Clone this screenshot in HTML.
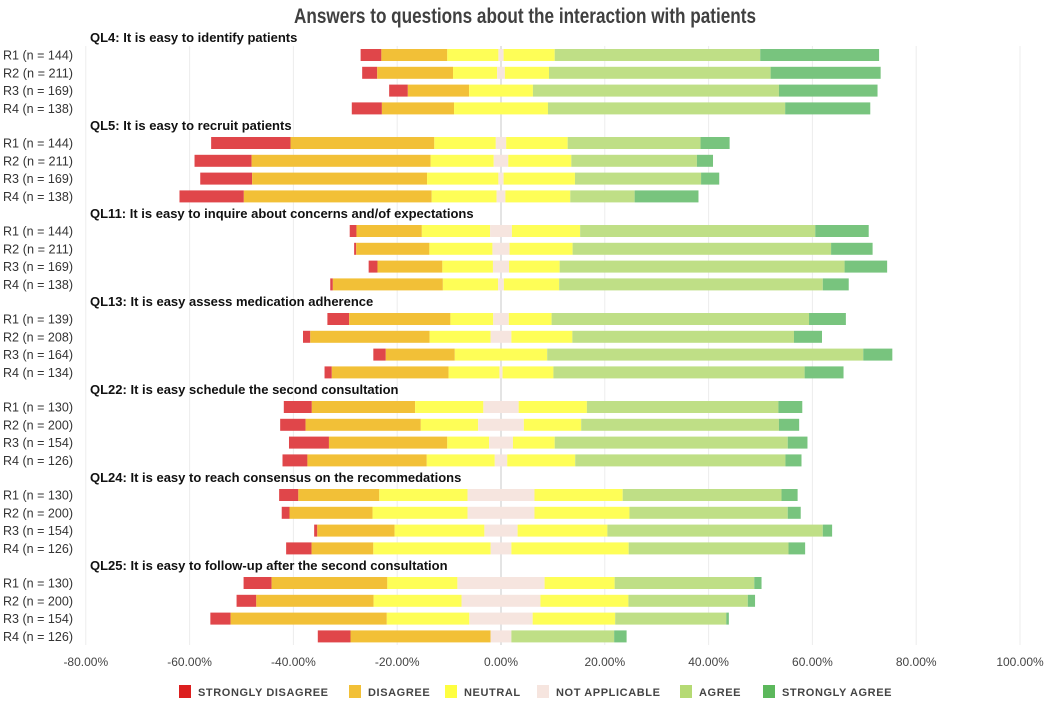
<!DOCTYPE html>
<html><head><meta charset="utf-8"><style>
body{margin:0;background:#fff}
svg{display:block;font-family:"Liberation Sans",sans-serif}
</style></head><body>
<svg id="chart" width="1052" height="704" viewBox="0 0 1052 704">
<text x="525" y="23" text-anchor="middle" font-size="21" font-weight="bold" fill="#404040" textLength="462" lengthAdjust="spacingAndGlyphs">Answers to questions about the interaction with patients</text>
<g id="grid"></g><g id="bars"></g><g id="labels"></g><g id="legend"></g>
</svg>
<script>
const questions=["QL4: It is easy to identify patients","QL5: It is easy to recruit patients","QL11: It is easy to inquire about concerns and/of expectations","QL13: It is easy assess medication adherence","QL22: It is easy schedule the second consultation","QL24: It is easy to reach consensus on the recommedations","QL25: It is easy to follow-up after the second consultation"];
const rowLabels=[
["R1 (n = 144)","R2 (n = 211)","R3 (n = 169)","R4 (n = 138)"],
["R1 (n = 144)","R2 (n = 211)","R3 (n = 169)","R4 (n = 138)"],
["R1 (n = 144)","R2 (n = 211)","R3 (n = 169)","R4 (n = 138)"],
["R1 (n = 139)","R2 (n = 208)","R3 (n = 164)","R4 (n = 134)"],
["R1 (n = 130)","R2 (n = 200)","R3 (n = 154)","R4 (n = 126)"],
["R1 (n = 130)","R2 (n = 200)","R3 (n = 154)","R4 (n = 126)"],
["R1 (n = 130)","R2 (n = 200)","R3 (n = 154)","R4 (n = 126)"]];
// per bar: strongly disagree, disagree, neutral, not applicable, agree, strongly agree (%)
const stronglyDisagree=[4.0,2.9,3.6,5.8, 15.3,11,10,12.4, 1.3,0.4,1.7,0.5, 4.2,1.4,2.4,1.4, 5.4,4.9,7.7,4.8, 3.7,1.5,0.6,4.9, 5.4,3.8,3.9,6.3];
const disagree=[12.7,14.6,11.8,13.9, 27.7,34.5,33.7,36.2, 12.6,14.1,12.5,21.2, 19.5,23,13.3,22.5, 19.9,22.2,22.8,23, 15.6,16,14.9,11.9, 22.3,22.6,30.1,27];
const neutral=[19.7,17,12.3,18.1, 23.7,24.3,27.5,25, 26.3,24.3,19.5,21.3, 16.5,23.5,17.8,19.6, 26.3,22.1,16.1,26.2, 34,36.6,34.6,45.2, 27,33.9,31.8,0];
const notApplicable=[1,1.5,0,0, 2,2.8,1,1.7, 4.2,3.3,3.1,1.1, 3,4,0,0.6, 6.8,8.8,4.6,2.4, 12.9,12.9,6.4,4, 16.8,15.2,12.2,4];
const agree=[39.6,42.7,47.4,45.7, 25.6,24.2,24.3,12.4, 45.3,49.8,54.9,50.8, 49.6,42.7,60.9,48.4, 36.9,38.1,44.9,40.5, 30.6,30.5,41.5,30.8, 26.9,23,21.4,19.8];
const stronglyAgree=[22.9,21.2,19,16.4, 5.6,3.1,3.5,12.3, 10.3,8,8.2,5, 7.1,5.4,5.6,7.5, 4.6,3.9,3.8,3.1, 3.1,2.5,1.8,3.2, 1.4,1.4,0.5,2.4];
const tickValues=[-80,-60,-40,-20,0,20,40,60,80,100];
const tickLabels=["-80.00%","-60.00%","-40.00%","-20.00%","0.00%","20.00%","40.00%","60.00%","80.00%","100.00%"];
const legendLabels=["STRONGLY DISAGREE","DISAGREE","NEUTRAL","NOT APPLICABLE","AGREE","STRONGLY AGREE"];

const NS="http://www.w3.org/2000/svg";
const colors=["#e0464a","#f2c037","#fefe57","#f6e5df","#bfdf86","#78c47e"];
const segNames=["strongly-disagree","disagree","neutral","not-applicable","agree","strongly-agree"];
function xs(v){return 501+v*5.19;}
function ys(g,r){return 55+g*88+r*17.8;}
function mk(tag,attrs,parent){const e=document.createElementNS(NS,tag);for(const k in attrs)e.setAttribute(k,attrs[k]);parent.appendChild(e);return e;}
const grid=document.getElementById('grid'),bars=document.getElementById('bars'),labels=document.getElementById('labels'),legend=document.getElementById('legend');
tickValues.forEach((v,i)=>{
  const l=mk('line',{x1:xs(v),x2:xs(v),y1:46,y2:645,stroke:v===0?'#c8c8c8':'#ececec','stroke-width':1},grid);
  
  
  const t=mk('text',{x:xs(v),y:666,'text-anchor':'middle','font-size':12,fill:'#444'},labels);
  t.textContent=tickLabels[i];
  
  
});
questions.forEach((q,g)=>{
  const t=mk('text',{x:90,y:ys(g,0)-13,'font-size':13,'font-weight':'bold',fill:'#111'},labels);
  t.textContent=q;
  
  
  for(let r=0;r<4;r++){
    const i=g*4+r;
    const lt=mk('text',{x:3,y:ys(g,r)+4.5,'font-size':12.5,fill:'#333',textLength:70,lengthAdjust:'spacingAndGlyphs'},labels);
    lt.textContent=rowLabels[g][r];
    
    
    const segs=[[stronglyDisagree[i],0],[disagree[i],1],[neutral[i]/2,2],[notApplicable[i],3],[neutral[i]/2,2],[agree[i],4],[stronglyAgree[i],5]];
    let start=-(stronglyDisagree[i]+disagree[i]+neutral[i]/2+notApplicable[i]/2);
    segs.forEach(([v,k])=>{
      if(v>0){
        const rc=mk('rect',{x:xs(start),y:ys(g,r)-6,width:v*5.19,height:12,fill:colors[k]},bars);
        
        
      }
      start+=v;
    });
  }
});
const legX=[179,349,445,537,680,763];
legendLabels.forEach((s,k)=>{
  const r=mk('rect',{x:legX[k],y:685,width:12,height:13,fill:['#dc1f1f','#f2c037','#fefe40','#f6e5df','#b5da74','#5cb85c'][k]},legend);
  
  
  const t=mk('text',{x:legX[k]+19,y:696,'font-size':11,'font-weight':'bold',fill:'#444','letter-spacing':0.6},legend);
  t.textContent=s;
  
  
});
</script>
</body></html>
